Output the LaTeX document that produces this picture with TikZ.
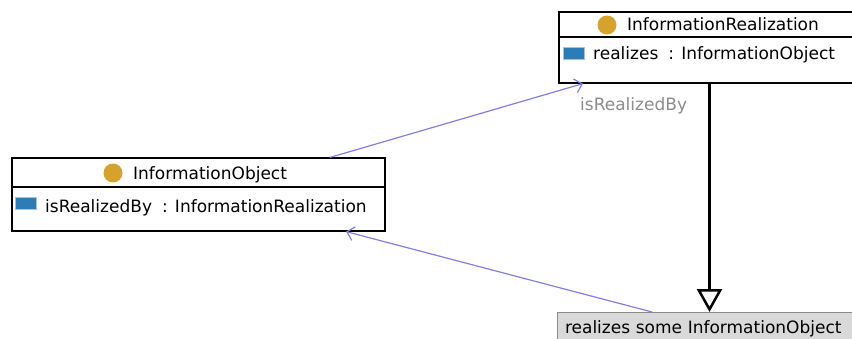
\documentclass[tikz,border=0pt]{standalone}
\usepackage{fontspec}
\setmainfont{DejaVu Sans}
\usetikzlibrary{arrows.meta}
\definecolor{linkblue}{RGB}{128,128,224}
\definecolor{classgold}{RGB}{214,162,46}
\definecolor{propblue}{RGB}{44,124,184}
\definecolor{propedge}{RGB}{170,196,214}
\definecolor{labelgray}{RGB}{140,140,140}
\definecolor{restrictgray}{RGB}{217,217,217}
\tikzset{classbox/.style={draw, fill=white, line width=1.2pt, inner sep=0pt}}
\tikzset{link/.style={linkblue, line width=1.2pt, -{Straight Barb[length=7pt, width=14pt]}}}
\tikzset{txt/.style={inner sep=0pt, font=\fontsize{17}{20}\selectfont}}
\tikzset{classicon/.style={circle, fill=classgold, minimum size=19pt, inner sep=0pt}}
\tikzset{propicon/.style={rectangle, fill=propblue, draw=propedge, line width=1pt, minimum width=21pt, minimum height=12pt, inner sep=0pt}}

\begin{document}
\begin{tikzpicture}[x=1pt, y=1pt]
    \useasboundingbox (0,0) rectangle (852,338);
    \clip (0,0) rectangle (852,338);
    %Classes
    \node[classbox, minimum width=301pt, minimum height=71pt] (realization) at (709.5,290.5) {};
    \draw[line width=1.2pt] (realization.west |- 0,301) -- (realization.east |- 0,301);
    \node[classicon] (realizationBadge) at (607,313) {};
    \node[txt, anchor=base west] (realizationName) at (627,307) {InformationRealization};
    \node[propicon] (realizesIcon) at (574,284.5) {};
    \node[txt, anchor=base west] (realizesProp) at (593,278) {realizes\hspace{10pt}: InformationObject};

    \node[classbox, minimum width=373pt, minimum height=73pt] (object) at (198.5,143.5) {};
    \draw[line width=1.2pt] (object.west |- 0,151) -- (object.east |- 0,151);
    \node[classicon] (objectBadge) at (113,165) {};
    \node[txt, anchor=base west] (objectName) at (133,159) {InformationObject};
    \node[propicon] (realizedIcon) at (26,134.5) {};
    \node[txt, anchor=base west] (realizedProp) at (45,126) {isRealizedBy\hspace{10pt}: InformationRealization};

    %Restriction
    \node[txt, anchor=north, draw=black!45, fill=restrictgray, line width=1pt,
          text width=289pt, inner xsep=8pt, inner ysep=8pt, align=left] (restriction) at (709.5,26)
          {realizes some InformationObject};

    %Links
    \draw[line width=2.5pt, -{Triangle[open, length=23pt, width=25pt]}] (realization.south) -- (restriction.north);
    \draw[link] ([xshift=131.5pt]object.north) -- ([xshift=-126.5pt]realization.south);
    \draw[link] ([xshift=-57.5pt]restriction.north) -- ([xshift=147.5pt]object.south);
    \node[txt, anchor=base west, text=labelgray] (inverseLabel) at (580,227) {isRealizedBy};
\end{tikzpicture}
\end{document}
